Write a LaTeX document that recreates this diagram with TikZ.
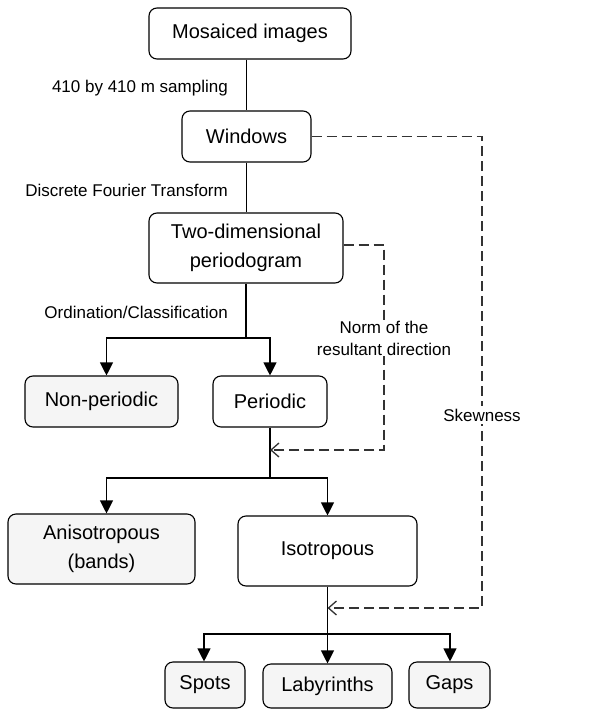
\documentclass[tikz,border=0pt]{standalone}
\usepackage{fontspec}
\setmainfont{Liberation Sans}
\usetikzlibrary{arrows.meta}
\begin{document}
\begin{tikzpicture}[x=1pt,y=-1pt,
  box/.style={draw, rounded corners=8pt, line width=1.1pt, align=center, inner sep=0pt,
    font=\fontsize{20}{28.5}\selectfont},
  gbox/.style={box, fill=black!4},
  lab/.style={font=\fontsize{17}{22}\selectfont, inner sep=1pt, align=center},
  conn/.style={line width=1.1pt},
  arr/.style={conn, -{Triangle[length=13pt,width=13pt]}},
  dashln/.style={line width=1.2pt, draw=black!80, dash pattern=on 10pt off 5pt,
    -{Straight Barb[length=8pt,width=14pt,line width=1.3pt]}}
]
\useasboundingbox (0,0) rectangle (596,709);

% boxes
\node[box, minimum width=202pt, minimum height=51pt] (mos) at (250,33.5) {Mosaiced images};
\node[box, minimum width=129pt, minimum height=51pt] (win) at (246.5,136.5) {Windows};
\node[box, minimum width=194pt, minimum height=70pt] (per) at (246,248) {Two-dimensional\\periodogram};
\node[gbox, minimum width=153pt, minimum height=51pt] (nonp) at (101.5,401.5) {Non-periodic};
\node[box, minimum width=114pt, minimum height=51pt] (peri) at (270,401.5) {Periodic};
\node[gbox, minimum width=187pt, minimum height=70pt] (aniso) at (101.5,549) {Anisotropous\\(bands)};
\node[box, minimum width=179pt, minimum height=70pt] (iso) at (327.5,551) {Isotropous};
\node[gbox, minimum width=80pt, minimum height=46pt] (spots) at (205,685) {Spots};
\node[gbox, minimum width=129pt, minimum height=44pt] (laby) at (327.5,686) {Labyrinths};
\node[gbox, minimum width=81pt, minimum height=46pt] (gaps) at (449.5,685) {Gaps};

% labels
\node[lab, anchor=east] (l1) at (229,88) {410 by 410 m sampling};
\node[lab, anchor=east] (l2) at (229,190) {Discrete Fourier Transform};
\node[lab, anchor=east] (l3) at (229,312) {Ordination/Classification};

% joints
\coordinate (b1) at (246,338);
\coordinate (b2) at (270,478);
\coordinate (b3) at (327.5,634);
\coordinate (nm) at (270,450);
\coordinate (sk) at (327.5,608);

% solid connectors
\draw[conn] (mos.south -| win.north) -- (win.north);
\draw[conn] (win.south) -- (win.south |- per.north);
\draw[conn] (per.south) -- (b1);
\draw[arr] (b1) -| ([xshift=5pt]nonp.north);
\draw[arr] (b1) -| (peri.north);
\draw[conn] (peri.south) -- (b2);
\draw[arr] (b2) -| ([xshift=5pt]aniso.north);
\draw[arr] (b2) -| (iso.north);
\draw[conn] (iso.south) -- (b3);
\draw[arr] (b3) -| ([xshift=-1pt]spots.north);
\draw[arr] (b3) -- (laby.north);
\draw[arr] (b3) -| ([xshift=0.5pt]gaps.north);

% dashed connectors
\draw[dashln] (per.east |- 0,245) -- (384,245) -- (384,450) -- (nm);
\draw[dashln] (win.east) -- (482,136.5) -- (482,608) -- (sk);

\node[lab, fill=white] (norm) at (384,338) {Norm of the\\resultant direction};
\node[lab, fill=white, inner sep=3pt] (skew) at (482,415) {Skewness};
\end{tikzpicture}
\end{document}
